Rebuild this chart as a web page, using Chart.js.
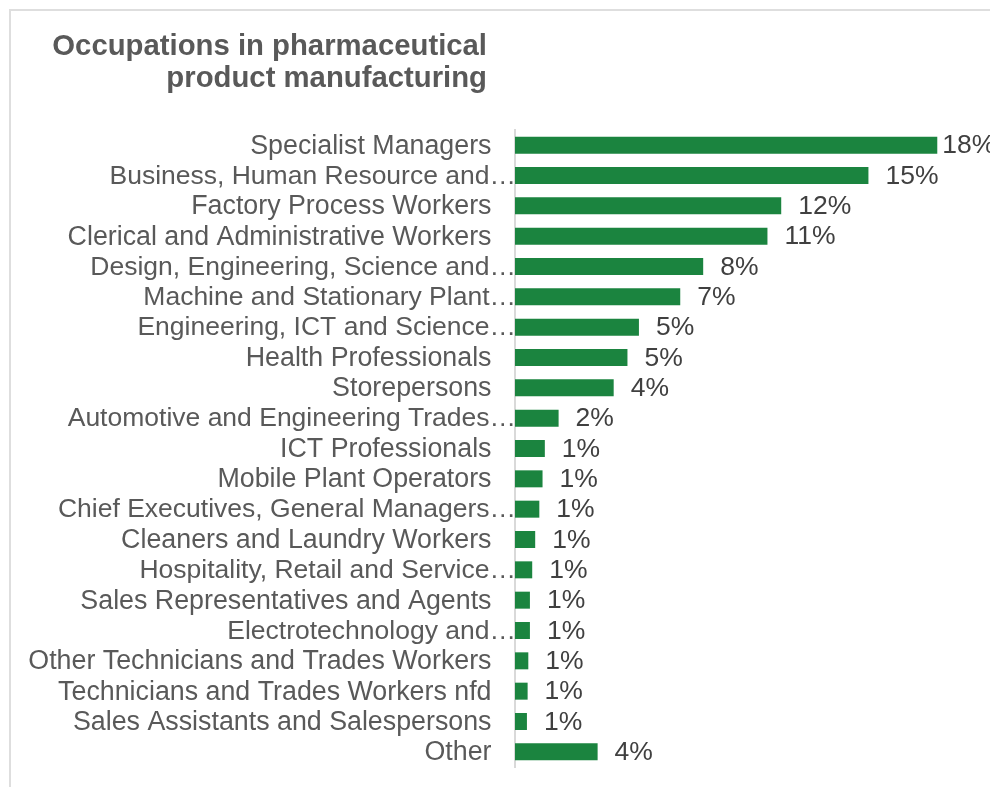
<!DOCTYPE html>
<html lang="en">

<head>
    <meta charset="UTF-8">
    <meta name="viewport" content="width=device-width, initial-scale=1.0">
    <title>Occupations in pharmaceutical product manufacturing</title>
    <script src="https://cdn.jsdelivr.net/npm/chart.js"></script>
    <style>
        body {
            margin: 0;
            background: #fff;
        }

        #wrap {
            position: relative;
            width: 990px;
            height: 787px;
            overflow: hidden;
        }

        #frame {
            position: absolute;
            left: 9px;
            top: 9px;
            width: 1200px;
            height: 1200px;
            border-left: 2px solid #dedede;
            border-top: 2px solid #dedede;
        }

        #occChart {
            position: absolute;
            left: 0;
            top: 0;
        }
    </style>
</head>

<body>
    <div id="wrap">
        <div id="frame"></div>
        <canvas id="occChart" width="990" height="787"></canvas>
    </div>

    <script>
        const titleLines = ['Occupations in pharmaceutical', 'product manufacturing'];

        const occupations = [
            'Specialist Managers',
            'Business, Human Resource and…',
            'Factory Process Workers',
            'Clerical and Administrative Workers',
            'Design, Engineering, Science and…',
            'Machine and Stationary Plant…',
            'Engineering, ICT and Science…',
            'Health Professionals',
            'Storepersons',
            'Automotive and Engineering Trades…',
            'ICT Professionals',
            'Mobile Plant Operators',
            'Chief Executives, General Managers…',
            'Cleaners and Laundry Workers',
            'Hospitality, Retail and Service…',
            'Sales Representatives and Agents',
            'Electrotechnology and…',
            'Other Technicians and Trades Workers',
            'Technicians and Trades Workers nfd',
            'Sales Assistants and Salespersons',
            'Other'
        ];

        // share of the industry workforce, %
        const shares = [18.4, 15.4, 11.6, 11.0, 8.2, 7.2, 5.4, 4.9, 4.3, 1.9, 1.3, 1.2, 1.06, 0.88, 0.75, 0.65, 0.65, 0.58, 0.55, 0.52, 3.6];

        const FONT = '"Liberation Sans", Arial, sans-serif';

        // names, value tags and the heading are painted by hand so that
        // cut-off names can run right up to the axis line
        const textPlugin = {
            id: 'occText',
            afterDraw(chart) {
                const { ctx, chartArea } = chart;
                const y = chart.scales.y;
                ctx.save();

                ctx.font = 'bold 29.3px ' + FONT;
                ctx.fillStyle = '#595959';
                ctx.textAlign = 'right';
                ctx.textBaseline = 'alphabetic';
                titleLines.forEach((t, i) => ctx.fillText(t, chartArea.left - 28, 55 + i * 32));

                ctx.textBaseline = 'middle';
                occupations.forEach((name, i) => {
                    const cut = name.endsWith('…');
                    ctx.font = (cut ? '26.5px ' : '26.8px ') + FONT;
                    const x = cut ? chartArea.left + 1 : chartArea.left - 23.5;
                    ctx.fillText(name, x, y.getPixelForValue(i) + 1);
                });

                ctx.font = '26.5px ' + FONT;
                ctx.textAlign = 'left';
                ctx.fillStyle = '#404040';
                chart.getDatasetMeta(0).data.forEach((bar, i) => {
                    const txt = Math.round(shares[i]) + '%';
                    let x = bar.x + 17;
                    if (x + ctx.measureText(txt).width > chart.width) x = bar.x + 5;
                    ctx.fillText(txt, x, bar.y + 1);
                });

                ctx.restore();
            }
        };

        const ctx = document.getElementById('occChart').getContext('2d');
        const occChart = new Chart(ctx, {
            type: 'bar',
            data: {
                labels: occupations,
                datasets: [{
                    data: shares,
                    backgroundColor: '#1b843f',
                    barPercentage: 0.56,
                    categoryPercentage: 1
                }]
            },
            options: {
                indexAxis: 'y',
                responsive: false,
                animation: false,
                layout: {
                    padding: { left: 515, right: 16, top: 130, bottom: 20 }
                },
                plugins: {
                    legend: { display: false },
                    tooltip: { enabled: false }
                },
                scales: {
                    x: { display: false, min: 0, max: 20 },
                    y: {
                        grid: { display: false },
                        ticks: { display: false },
                        border: { display: true, color: '#d9d9d9', width: 2 },
                        afterFit: s => { s.width = 0; }
                    }
                }
            },
            plugins: [textPlugin]
        });
    </script>
</body>

</html>
